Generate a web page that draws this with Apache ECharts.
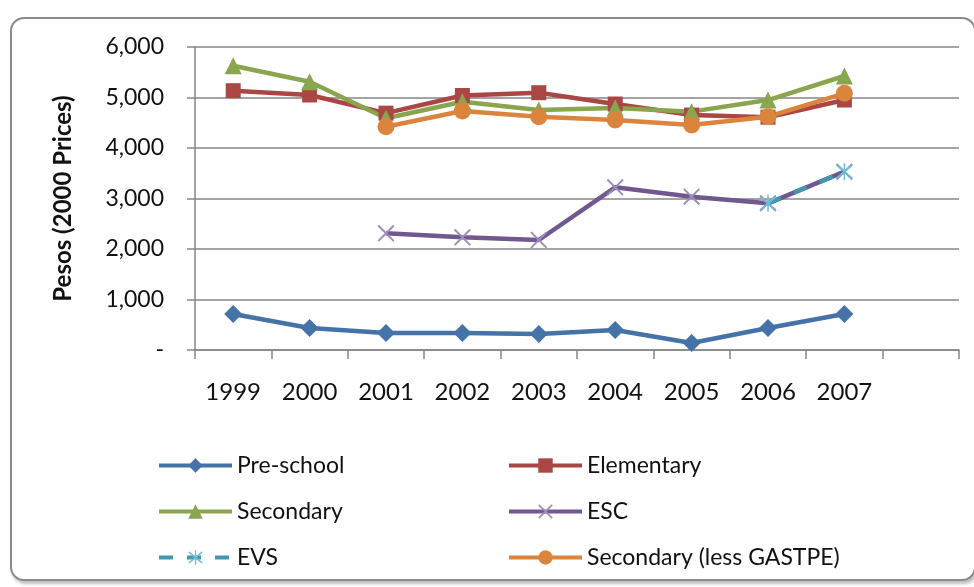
<!DOCTYPE html>
<html>
<head>
<meta charset="utf-8">
<script src="https://cdn.jsdelivr.net/npm/echarts@6/dist/echarts.min.js"></script>
<style>
  html, body { margin: 0; padding: 0; background: #fff; }
  .frame {
    position: absolute;
    left: 10px; top: 17px;
    width: 962px; height: 560px;
    border: 2px solid #8a8a8a;
    border-radius: 14px;
    box-shadow: 2px 3px 3px rgba(0,0,0,0.25);
    background: #fff;
  }
  #chart { position: absolute; left: 0; top: 0; width: 974px; height: 587px; }
</style>
</head>
<body>
<div class="frame"></div>
<div id="chart"></div>
<script>
  var years = ['1999', '2000', '2001', '2002', '2003', '2004', '2005', '2006', '2007', ''];
  var preSchool = [713, 436, 337, 337, 317, 396, 139, 436, 713, null];
  var elementary = [5135, 5050, 4690, 5040, 5095, 4871, 4653, 4610, 4950, null];
  var secondary = [5630, 5313, 4590, 4917, 4752, 4790, 4720, 4950, 5426, null];
  var esc = [null, null, 2310, 2231, 2178, 3222, 3036, 2904, 3531, null];
  var evs = [null, null, null, null, null, null, null, 2904, 3531, null];
  var secondaryLess = [null, null, 4422, 4733, 4620, 4554, 4455, 4620, 5083, null];

  var font = 'Lato';
  var xPath = 'path://M0,0.8L0.8,0L10,9.2L9.2,10Z M9.2,0L10,0.8L0.8,10L0,9.2Z';
  var starPath = 'path://M0,0.8L0.8,0L10,9.2L9.2,10Z M9.2,0L10,0.8L0.8,10L0,9.2Z M4.55,-1L5.45,-1L5.45,11L4.55,11Z';

  var legendBase = {
      orient: 'vertical',
      top: 449,
      itemWidth: 73, itemHeight: 18, itemGap: 23,
      lineStyle: { width: 4 },
      textStyle: { fontFamily: font, fontSize: 23, color: '#111' }
  };

  var myChart = echarts.init(document.getElementById('chart'));
  myChart.setOption({
      backgroundColor: 'transparent',
      animation: false,
      grid: { left: 195, right: 15, top: 47, bottom: 237 },
      legend: [
          Object.assign({}, legendBase, { left: 152, data: ['Pre-school', 'Secondary', 'EVS'] }),
          Object.assign({}, legendBase, { left: 502, data: ['Elementary', 'ESC', 'Secondary (less GASTPE)'] })
      ],
      xAxis: {
          type: 'category',
          data: years,
          boundaryGap: true,
          axisLine: { lineStyle: { color: '#868686', width: 1.5 } },
          axisTick: { show: true, length: 9, lineStyle: { color: '#868686', width: 1.5 } },
          axisLabel: { fontFamily: font, fontSize: 24, color: '#111', margin: 30 }
      },
      yAxis: {
          type: 'value',
          min: 0, max: 6000, interval: 1000,
          name: 'Pesos (2000 Prices)',
          nameLocation: 'middle',
          nameGap: 120,
          nameTextStyle: { fontFamily: font, fontSize: 24, fontWeight: 'bold', color: '#111' },
          axisLine: { show: true, lineStyle: { color: '#868686', width: 1.5 } },
          axisTick: { show: true, length: 8, lineStyle: { color: '#868686', width: 1.5 } },
          splitLine: { lineStyle: { color: '#868686', width: 1.5 } },
          axisLabel: {
              fontFamily: font, fontSize: 23, color: '#111', margin: 31,
              formatter: function (v) { return v === 0 ? '-' : v.toLocaleString('en-US'); }
          }
      },
      series: [{
          name: 'Pre-school', type: 'line', data: preSchool,
          symbol: 'diamond', symbolSize: 18,
          lineStyle: { color: '#4572A7', width: 4.5 },
          itemStyle: { color: '#4572A7' }
      }, {
          name: 'Elementary', type: 'line', data: elementary,
          symbol: 'rect', symbolSize: 15,
          lineStyle: { color: '#AA4643', width: 4.5 },
          itemStyle: { color: '#AA4643' }
      }, {
          name: 'Secondary', type: 'line', data: secondary,
          symbol: 'triangle', symbolSize: 17,
          lineStyle: { color: '#89A54E', width: 4.5 },
          itemStyle: { color: '#89A54E' }
      }, {
          name: 'ESC', type: 'line', data: esc,
          symbol: xPath, symbolSize: 17,
          lineStyle: { color: '#71588F', width: 4.5 },
          itemStyle: { color: '#9d8cbf' }
      }, {
          name: 'EVS', type: 'line', data: evs,
          symbol: starPath, symbolSize: 17,
          lineStyle: { color: '#4198AF', width: 4.5, type: [14, 14] },
          itemStyle: { color: '#6fbfd4' }
      }, {
          name: 'Secondary (less GASTPE)', type: 'line', data: secondaryLess,
          symbol: 'circle', symbolSize: 17,
          lineStyle: { color: '#DB843D', width: 4.5 },
          itemStyle: { color: '#DB843D' }
      }]
  });
</script>
</body>
</html>
